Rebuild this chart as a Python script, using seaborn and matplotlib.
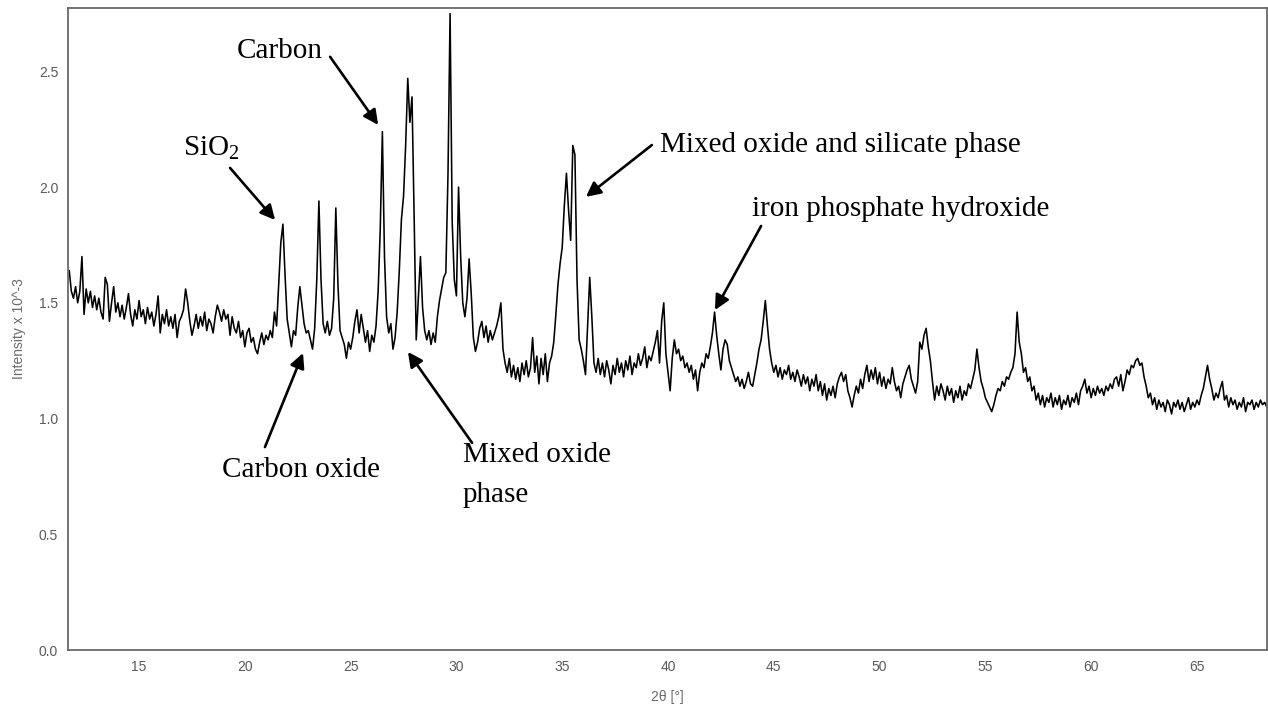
import numpy as np
import pandas as pd
import matplotlib
matplotlib.use("Agg")
import matplotlib.pyplot as plt
import seaborn as sns

# Diffractogram sampled every 0.1 deg, starting at 11.7 deg (2-theta)
two_theta_start = 11.7
two_theta_step = 0.1
intensity = [
    1.64, 1.55, 1.52,                                              # 11.7-11.9
    1.57, 1.50, 1.55, 1.70, 1.45, 1.56, 1.50, 1.55, 1.48, 1.53,    # 12
    1.47, 1.52, 1.46, 1.43, 1.61, 1.58, 1.42, 1.50, 1.57, 1.46,    # 13
    1.50, 1.44, 1.49, 1.43, 1.48, 1.54, 1.45, 1.40, 1.47, 1.43,    # 14
    1.51, 1.44, 1.47, 1.41, 1.48, 1.43, 1.46, 1.40, 1.45, 1.53,    # 15
    1.37, 1.45, 1.41, 1.47, 1.40, 1.44, 1.39, 1.45, 1.35, 1.42,    # 16
    1.44, 1.47, 1.56, 1.50, 1.42, 1.36, 1.40, 1.45, 1.39, 1.44,    # 17
    1.40, 1.46, 1.38, 1.43, 1.41, 1.37, 1.44, 1.49, 1.46, 1.42,    # 18
    1.47, 1.43, 1.45, 1.36, 1.44, 1.39, 1.37, 1.42, 1.35, 1.38,    # 19
    1.31, 1.37, 1.39, 1.33, 1.35, 1.30, 1.28, 1.33, 1.37, 1.32,    # 20
    1.36, 1.34, 1.38, 1.35, 1.46, 1.40, 1.58, 1.76, 1.84, 1.62,    # 21
    1.43, 1.37, 1.31, 1.38, 1.36, 1.48, 1.57, 1.49, 1.41, 1.37,    # 22
    1.38, 1.34, 1.30, 1.39, 1.60, 1.94, 1.60, 1.41, 1.37, 1.42,    # 23
    1.36, 1.39, 1.52, 1.91, 1.58, 1.38, 1.35, 1.32, 1.26, 1.33,    # 24
    1.30, 1.35, 1.42, 1.47, 1.37, 1.45, 1.39, 1.33, 1.38, 1.29,    # 25
    1.36, 1.33, 1.40, 1.55, 1.82, 2.24, 1.70, 1.44, 1.37, 1.41,    # 26
    1.30, 1.35, 1.46, 1.64, 1.86, 1.96, 2.18, 2.47, 2.28, 2.39,    # 27
    1.88, 1.34, 1.52, 1.70, 1.48, 1.38, 1.34, 1.38, 1.32, 1.37,    # 28
    1.33, 1.44, 1.51, 1.56, 1.61, 1.63, 2.05, 2.75, 1.85, 1.60,    # 29
    1.53, 2.00, 1.70, 1.50, 1.44, 1.52, 1.69, 1.54, 1.35, 1.29,    # 30
    1.33, 1.39, 1.42, 1.35, 1.40, 1.33, 1.38, 1.34, 1.37, 1.40,    # 31
    1.44, 1.50, 1.30, 1.24, 1.20, 1.26, 1.18, 1.23, 1.17, 1.22,    # 32
    1.16, 1.24, 1.19, 1.25, 1.18, 1.22, 1.35, 1.20, 1.27, 1.15,    # 33
    1.26, 1.19, 1.28, 1.16, 1.24, 1.27, 1.33, 1.45, 1.58, 1.67,    # 34
    1.74, 1.92, 2.06, 1.90, 1.77, 2.18, 2.14, 1.60, 1.34, 1.30,    # 35
    1.25, 1.19, 1.40, 1.61, 1.44, 1.24, 1.20, 1.26, 1.19, 1.24,    # 36
    1.18, 1.25, 1.21, 1.15, 1.23, 1.19, 1.26, 1.20, 1.24, 1.18,    # 37
    1.25, 1.21, 1.27, 1.19, 1.24, 1.22, 1.28, 1.23, 1.26, 1.31,    # 38
    1.22, 1.27, 1.25, 1.29, 1.33, 1.38, 1.24, 1.42, 1.50, 1.28,    # 39
    1.20, 1.12, 1.26, 1.34, 1.28, 1.30, 1.25, 1.27, 1.22, 1.24,    # 40
    1.20, 1.23, 1.17, 1.21, 1.12, 1.20, 1.24, 1.22, 1.28, 1.26,    # 41
    1.31, 1.37, 1.46, 1.36, 1.28, 1.21, 1.30, 1.34, 1.32, 1.25,    # 42
    1.22, 1.19, 1.16, 1.18, 1.14, 1.17, 1.13, 1.16, 1.20, 1.15,    # 43
    1.14, 1.19, 1.24, 1.30, 1.34, 1.42, 1.51, 1.40, 1.30, 1.24,    # 44
    1.20, 1.23, 1.18, 1.22, 1.17, 1.21, 1.19, 1.23, 1.17, 1.20,    # 45
    1.16, 1.21, 1.18, 1.14, 1.19, 1.15, 1.18, 1.12, 1.17, 1.14,    # 46
    1.19, 1.12, 1.16, 1.10, 1.15, 1.08, 1.13, 1.10, 1.14, 1.09,    # 47
    1.15, 1.18, 1.20, 1.16, 1.19, 1.12, 1.09, 1.05, 1.10, 1.14,    # 48
    1.11, 1.17, 1.13, 1.19, 1.23, 1.16, 1.21, 1.17, 1.22, 1.15,    # 49
    1.20, 1.14, 1.18, 1.13, 1.17, 1.15, 1.22, 1.16, 1.12, 1.14,    # 50
    1.09, 1.15, 1.18, 1.21, 1.23, 1.17, 1.14, 1.11, 1.16, 1.33,    # 51
    1.30, 1.36, 1.39, 1.31, 1.25, 1.16, 1.08, 1.14, 1.10, 1.15,    # 52
    1.12, 1.08, 1.14, 1.10, 1.13, 1.07, 1.12, 1.09, 1.14, 1.08,    # 53
    1.12, 1.10, 1.15, 1.13, 1.17, 1.21, 1.30, 1.22, 1.16, 1.13,    # 54
    1.09, 1.07, 1.05, 1.03, 1.06, 1.10, 1.13, 1.12, 1.16, 1.14,    # 55
    1.18, 1.17, 1.20, 1.22, 1.28, 1.46, 1.33, 1.28, 1.20, 1.22,    # 56
    1.16, 1.18, 1.12, 1.14, 1.08, 1.11, 1.06, 1.10, 1.05, 1.09,    # 57
    1.07, 1.11, 1.05, 1.09, 1.06, 1.10, 1.04, 1.08, 1.06, 1.10,    # 58
    1.05, 1.09, 1.07, 1.11, 1.06, 1.12, 1.14, 1.17, 1.11, 1.14,    # 59
    1.09, 1.13, 1.10, 1.14, 1.11, 1.13, 1.10, 1.14, 1.12, 1.15,    # 60
    1.13, 1.17, 1.18, 1.14, 1.19, 1.12, 1.16, 1.21, 1.19, 1.23,    # 61
    1.22, 1.25, 1.26, 1.23, 1.24, 1.18, 1.14, 1.09, 1.11, 1.06,    # 62
    1.09, 1.04, 1.08, 1.05, 1.07, 1.03, 1.08, 1.06, 1.02, 1.07,    # 63
    1.05, 1.08, 1.04, 1.07, 1.03, 1.06, 1.09, 1.04, 1.07, 1.05,    # 64
    1.08, 1.06, 1.10, 1.13, 1.18, 1.23, 1.17, 1.13, 1.08, 1.11,    # 65
    1.09, 1.13, 1.16, 1.08, 1.10, 1.05, 1.09, 1.06, 1.08, 1.04,    # 66
    1.07, 1.05, 1.09, 1.03, 1.07, 1.06, 1.08, 1.04, 1.07, 1.05,    # 67
    1.08, 1.06, 1.07, 1.05,                                        # 68.0-68.3
]

x_ticks = [15, 20, 25, 30, 35, 40, 45, 50, 55, 60, 65]
y_ticks = [0.0, 0.5, 1.0, 1.5, 2.0, 2.5]
x_label = "2θ [°]"
y_label = "Intensity x 10^-3"

# Phase labels: (text lines, text anchor, arrow tail, arrow tip) in data units
phase_labels = [
    (["SiO$_\\mathregular{2}$"], (17.08, 2.139), (19.30, 2.083), (21.43, 1.858)),
    (["Carbon"], (19.63, 2.558), (24.03, 2.563), (26.30, 2.269)),
    (["Carbon oxide"], (18.92, 0.748), (20.95, 0.877), (22.75, 1.283)),
    (["Mixed oxide", "phase"], (30.31, 0.812), (30.74, 0.895), (27.71, 1.288)),
    (["Mixed oxide and silicate phase"], (39.62, 2.152), (39.24, 2.182), (36.12, 1.958)),
    (["iron phosphate hydroxide"], (43.97, 1.876), (44.40, 1.832), (42.22, 1.469)),
]

two_theta = np.round(two_theta_start + two_theta_step * np.arange(len(intensity)), 2)
df = pd.DataFrame({"two_theta": two_theta, "intensity": intensity})

sns.set_style("white")
plt.rcParams["font.family"] = ["Liberation Sans", "DejaVu Sans"]
plt.rcParams["mathtext.fontset"] = "custom"
plt.rcParams["mathtext.rm"] = "Liberation Serif"

fig = plt.figure(figsize=(12.68, 7.07), dpi=100)
ax = fig.add_axes([0.0536, 0.0806, 0.9456, 0.9081])

sns.lineplot(data=df, x="two_theta", y="intensity", ax=ax, color="black",
             linewidth=1.15, estimator=None, sort=False)

ax.set_xlim(11.64, 68.31)
ax.set_ylim(0, 2.774)
ax.set_xticks(x_ticks)
ax.set_yticks(y_ticks)
ax.set_yticklabels([f"{v:.1f}" for v in y_ticks])

frame_color = "#6a6a6a"
for spine in ax.spines.values():
    spine.set_color(frame_color)
    spine.set_linewidth(1.3)
ax.tick_params(axis="both", direction="out", length=4, width=1.1,
               color=frame_color, labelcolor="#5a5a5a", labelsize=10, pad=3)

ax.set_xlabel(x_label, fontsize=10, color="#6a6a6a", labelpad=12)
ax.set_ylabel(y_label, fontsize=10, color="#6a6a6a", labelpad=9)

serif = ["Liberation Serif", "DejaVu Serif"]
line_gap = 0.172
for lines, (tx, ty), tail, tip in phase_labels:
    for i, line in enumerate(lines):
        ax.text(tx, ty - i * line_gap, line, fontsize=21, family=serif,
                color="black", ha="left", va="baseline")
    ax.annotate("", xy=tip, xytext=tail,
                arrowprops=dict(arrowstyle="-|>", color="black", lw=1.9,
                                mutation_scale=22, shrinkA=0, shrinkB=0))

fig.savefig("out.png", dpi=100, facecolor="white")
